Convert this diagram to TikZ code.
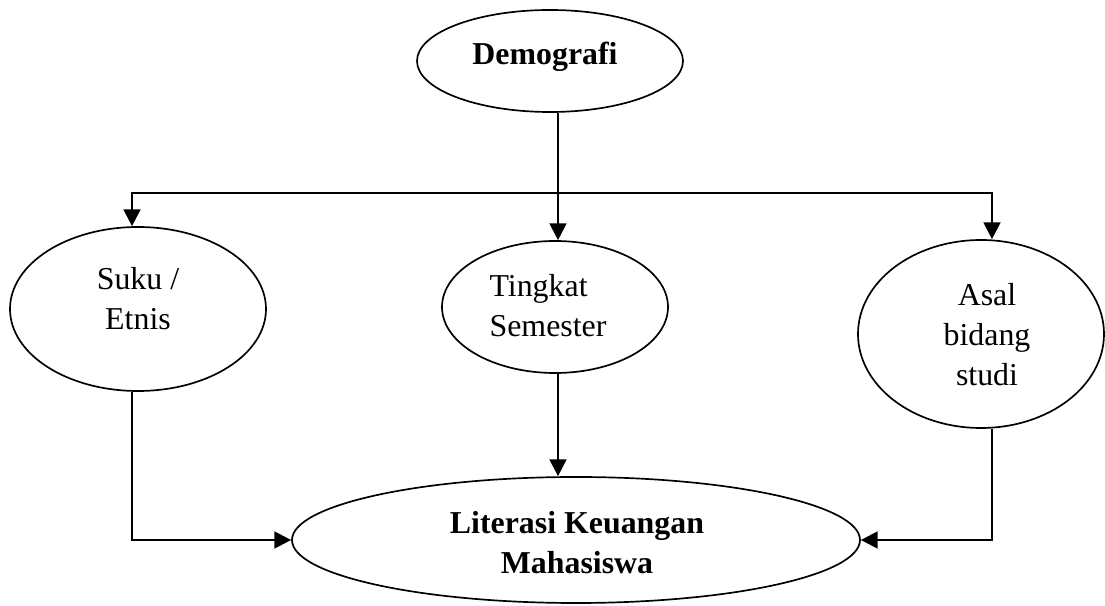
\documentclass[tikz,border=0pt]{standalone}
\usepackage{fontspec}
\setmainfont{Liberation Serif}
\usetikzlibrary{shapes.geometric,arrows.meta}
\begin{document}
\begin{tikzpicture}[x=0.386pt,y=-0.386pt,
  ell/.style={ellipse,draw,line width=0.65pt,inner sep=0pt},
  txt/.style={align=center,font=\fontsize{12.3}{15.4}\selectfont,inner sep=0pt},
  conn/.style={line width=0.9pt},
  arr/.style={conn,-{Triangle[length=6.5pt,width=6.5pt]}}]
\useasboundingbox (0,0) rectangle (1105,606);
% ellipses
\node[ell,minimum width=266*0.386pt,minimum height=102*0.386pt] (demo) at (550,61) {};
\node[ell,minimum width=256*0.386pt,minimum height=164*0.386pt] (suku) at (138,309) {};
\node[ell,minimum width=226*0.386pt,minimum height=132*0.386pt] (tingkat) at (555,307) {};
\node[ell,minimum width=246*0.386pt,minimum height=188*0.386pt] (asal) at (981,334) {};
\node[ell,minimum width=568*0.386pt,minimum height=126*0.386pt] (lit) at (576,540) {};
% texts
\node[txt,font=\fontsize{12.3}{15.4}\selectfont\bfseries] (demot) at (545,57) {Demografi};
\node[txt] (sukut) at (138,299) {Suku /\\Etnis};
\node[txt,align=left] (tingkatt) at (548,306) {Tingkat\\Semester};
\node[txt] (asalt) at (987,335) {Asal\\bidang\\studi};
\node[txt,font=\fontsize{12.3}{15.4}\selectfont\bfseries] (litt) at (577,543) {Literasi Keuangan\\Mahasiswa};
% connector coordinates
\coordinate (split) at (558,193);
\coordinate (lt) at (132,193);
\coordinate (rt) at (992,193);
% connectors
\draw[conn] (split |- demo.south) -- (split);
\draw[arr] (split) -- (split |- tingkat.north);
\draw[arr] (split) -- (lt) -- (lt |- suku.north);
\draw[arr] (split) -- (rt) -- (rt |- asal.north);
\draw[arr] (lt |- suku.south) -- (lt |- lit.west) -- (lit.west);
\draw[arr] (rt |- asal.south) -- (rt |- lit.east) -- (lit.east);
\draw[arr] (split |- tingkat.south) -- (split |- lit.north);
\end{tikzpicture}
\end{document}
